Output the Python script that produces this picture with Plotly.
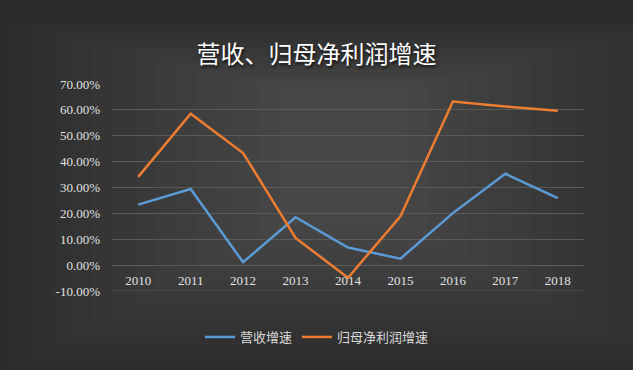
import plotly.graph_objects as go

years = ["2010", "2011", "2012", "2013", "2014", "2015", "2016", "2017", "2018"]
revenue_growth = [23.4, 29.4, 1.1, 18.5, 6.8, 2.5, 20.1, 35.3, 25.9]
profit_growth = [34.1, 58.5, 43.3, 10.5, -4.9, 18.9, 63.2, 61.3, 59.7]
y_ticks = [-10, 0, 10, 20, 30, 40, 50, 60, 70]
y_tick_text = ["%.2f%%" % v for v in y_ticks]

fig = go.Figure()
fig.add_trace(go.Scatter(x=years, y=revenue_growth, mode="lines", name="营收增速",
                         line=dict(color="#5b9bd5", width=2.5)))
fig.add_trace(go.Scatter(x=years, y=profit_growth, mode="lines", name="归母净利润增速",
                         line=dict(color="#ed7d31", width=2.5)))

# vignette-like background built from soft translucent layers
shapes = []
n = 14
for i in range(n):
    f = i / n
    shapes.append(dict(type="rect", xref="paper", yref="paper", layer="below",
                       x0=-0.22 + f * 0.62, x1=1.2 - f * 0.62,
                       y0=-0.38 + f * 0.75, y1=1.3 - f * 0.35,
                       fillcolor="rgba(255,255,255,0.011)", line=dict(width=0)))
# bottom gridline (plotly hides the grid line sitting on the plot edge)
shapes.append(dict(type="line", xref="paper", yref="y", layer="below",
                   x0=0, x1=1, y0=y_ticks[0], y1=y_ticks[0],
                   line=dict(color="#5a5a5a", width=1)))

fig.update_layout(
    width=633, height=370,
    margin=dict(l=112, r=49, t=84, b=79),
    paper_bgcolor="#2b2b2b",
    plot_bgcolor="rgba(0,0,0,0)",
    shapes=shapes,
    title=dict(text="营收、归母净利润增速", x=0.5, xanchor="center", xref="container",
               y=1 - 55 / 370, yanchor="middle",
               font=dict(family="Noto Sans CJK SC", size=24, color="#ffffff",
                         shadow="1px 2px 3px #111111")),
    showlegend=True,
    legend=dict(orientation="h", x=0.5 + (317 - 348) / 472, xanchor="center",
                y=-(337 - 291) / 207, yanchor="middle",
                font=dict(family="Noto Sans CJK SC", size=13, color="#d9d9d9"),
                bgcolor="rgba(0,0,0,0)", itemwidth=30, tracegroupgap=0),
    xaxis=dict(type="category", range=[-0.5, 8.5], showgrid=False, zeroline=False,
               showline=False, ticks="", anchor="free", position=(291 - 265.5) / 207,
               ticklabelstandoff=5,
               tickfont=dict(family="Liberation Serif", size=13, color="#e0e0e0")),
    yaxis=dict(range=[-10, 70], tickvals=y_ticks, ticktext=y_tick_text,
               showgrid=True, gridcolor="#5a5a5a", gridwidth=1, zeroline=False,
               showline=False, ticks="", ticklabelstandoff=11,
               tickfont=dict(family="Liberation Serif", size=13, color="#e0e0e0")),
)

fig.write_html("out.html", config={"displayModeBar": False},
               post_script="document.body.style.margin='0px';document.body.style.overflow='hidden';")
